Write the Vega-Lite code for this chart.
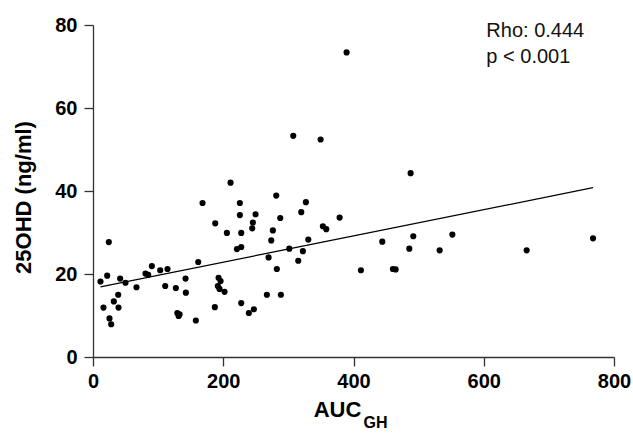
{
  "$schema": "https://vega.github.io/schema/vega-lite/v6.json",
  "autosize": {"type": "none"},
  "padding": {"left": 93, "top": 25, "right": 19, "bottom": 77},
  "width": 521,
  "height": 332,
  "background": "white",
  "config": {
    "view": {"stroke": null},
    "font": "Liberation Sans",
    "axis": {
      "grid": false,
      "domainColor": "#333333",
      "tickColor": "#333333",
      "domainWidth": 1.3,
      "tickWidth": 1.3,
      "tickSize": 9,
      "labelFlush": false,
      "labelColor": "black",
      "labelFontSize": 20,
      "labelFontWeight": "bold",
      "titleColor": "black",
      "titleFontSize": 22,
      "titleFontWeight": "bold"
    }
  },
  "layer": [
    {
      "data": {"values": [
        {"auc": 11.5, "ohd": 18.2}, {"auc": 21.8, "ohd": 19.6}, {"auc": 24.3, "ohd": 27.7},
        {"auc": 16.1, "ohd": 11.9}, {"auc": 25.3, "ohd": 9.3}, {"auc": 27.9, "ohd": 7.9},
        {"auc": 32, "ohd": 13.4}, {"auc": 38.7, "ohd": 15.0}, {"auc": 39.2, "ohd": 11.9},
        {"auc": 41.7, "ohd": 18.9}, {"auc": 49.9, "ohd": 17.9}, {"auc": 66.8, "ohd": 16.8},
        {"auc": 80.6, "ohd": 20.1}, {"auc": 84.8, "ohd": 19.8}, {"auc": 90.4, "ohd": 21.9},
        {"auc": 103.2, "ohd": 20.9}, {"auc": 114.4, "ohd": 21.2}, {"auc": 110.9, "ohd": 17.1},
        {"auc": 127.2, "ohd": 16.6}, {"auc": 142.1, "ohd": 18.9}, {"auc": 142.6, "ohd": 15.5},
        {"auc": 129.5, "ohd": 10.6}, {"auc": 131.5, "ohd": 9.9}, {"auc": 133, "ohd": 10.3},
        {"auc": 157.9, "ohd": 8.8}, {"auc": 161.6, "ohd": 22.9}, {"auc": 168.2, "ohd": 37.1},
        {"auc": 187.7, "ohd": 32.2}, {"auc": 205.6, "ohd": 29.9}, {"auc": 211.2, "ohd": 42.0},
        {"auc": 187.1, "ohd": 12.0}, {"auc": 192.8, "ohd": 19.1}, {"auc": 195.9, "ohd": 18.3},
        {"auc": 191.7, "ohd": 17.1}, {"auc": 194.3, "ohd": 16.4}, {"auc": 202, "ohd": 15.7},
        {"auc": 225.5, "ohd": 37.1}, {"auc": 225.5, "ohd": 34.2}, {"auc": 227.6, "ohd": 29.9},
        {"auc": 221, "ohd": 26.0}, {"auc": 227.6, "ohd": 26.5}, {"auc": 227.6, "ohd": 13.0},
        {"auc": 239.3, "ohd": 10.6}, {"auc": 247, "ohd": 11.5}, {"auc": 249.6, "ohd": 34.4},
        {"auc": 245.5, "ohd": 32.4}, {"auc": 244.5, "ohd": 31.0}, {"auc": 269.6, "ohd": 24.0},
        {"auc": 281.4, "ohd": 38.9}, {"auc": 287.5, "ohd": 33.5}, {"auc": 276.2, "ohd": 30.5},
        {"auc": 273.7, "ohd": 28.1}, {"auc": 282.3, "ohd": 21.2}, {"auc": 267, "ohd": 15.0},
        {"auc": 288.5, "ohd": 15.0}, {"auc": 301.4, "ohd": 26.1}, {"auc": 315.2, "ohd": 23.2},
        {"auc": 322.3, "ohd": 25.5}, {"auc": 319.8, "ohd": 34.9}, {"auc": 326.9, "ohd": 37.3},
        {"auc": 330.6, "ohd": 28.3}, {"auc": 353, "ohd": 31.5}, {"auc": 358.2, "ohd": 30.8},
        {"auc": 378.7, "ohd": 33.6}, {"auc": 411.4, "ohd": 20.9}, {"auc": 444.2, "ohd": 27.8},
        {"auc": 460.5, "ohd": 21.2}, {"auc": 464.7, "ohd": 21.1}, {"auc": 485.7, "ohd": 26.1},
        {"auc": 491.8, "ohd": 29.1}, {"auc": 487.7, "ohd": 44.3}, {"auc": 532.3, "ohd": 25.7},
        {"auc": 551.8, "ohd": 29.5}, {"auc": 665.9, "ohd": 25.7}, {"auc": 767.8, "ohd": 28.6},
        {"auc": 389.4, "ohd": 73.4}, {"auc": 307.5, "ohd": 53.3}, {"auc": 349.5, "ohd": 52.4}
      ]},
      "mark": {"type": "point", "filled": true, "color": "black", "opacity": 1, "size": 38},
      "encoding": {
        "x": {
          "field": "auc", "type": "quantitative",
          "scale": {"domain": [0, 800], "nice": false},
          "axis": {"values": [0, 200, 400, 600, 800], "title": "AUC", "labelPadding": 5, "titleX": 244, "titleY": 59, "titleBaseline": "alphabetic", "titleAlign": "center"}
        },
        "y": {
          "field": "ohd", "type": "quantitative",
          "scale": {"domain": [0, 80], "nice": false},
          "axis": {"values": [0, 20, 40, 60, 80], "title": "25OHD (ng/ml)", "labelPadding": 7, "titleX": -63, "titleY": 172, "titleBaseline": "alphabetic", "titleAlign": "center", "titleAngle": -90}
        }
      }
    },
    {
      "data": {"values": [{"auc": 11.5, "ohd": 16.9}, {"auc": 767.8, "ohd": 40.8}]},
      "mark": {"type": "line", "color": "black", "strokeWidth": 1.2},
      "encoding": {
        "x": {"field": "auc", "type": "quantitative"},
        "y": {"field": "ohd", "type": "quantitative"}
      }
    },
    {
      "data": {"values": [{"auc": 604, "ohd": 77.1, "t": "Rho: 0.444"}, {"auc": 604, "ohd": 70.8, "t": "p < 0.001"}]},
      "mark": {"type": "text", "align": "left", "baseline": "alphabetic", "fontSize": 20, "color": "#111111"},
      "encoding": {
        "x": {"field": "auc", "type": "quantitative"},
        "y": {"field": "ohd", "type": "quantitative"},
        "text": {"field": "t"}
      }
    },
    {
      "data": {"values": [{"auc": 415.5, "ohd": -17, "t": "GH"}]},
      "mark": {"type": "text", "align": "left", "baseline": "alphabetic", "fontSize": 16, "fontWeight": "bold", "color": "black"},
      "encoding": {
        "x": {"field": "auc", "type": "quantitative"},
        "y": {"field": "ohd", "type": "quantitative"},
        "text": {"field": "t"}
      }
    }
  ]
}
